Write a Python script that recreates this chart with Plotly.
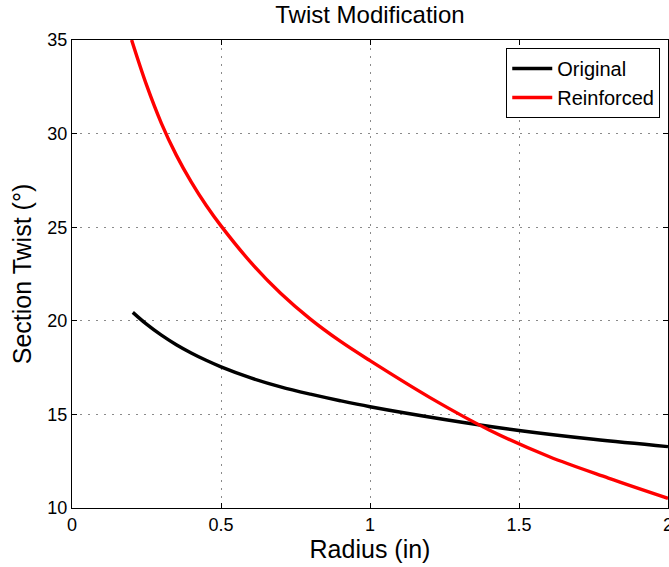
import plotly.graph_objects as go

# Data
radius_original = [0.204, 0.25, 0.3, 0.35, 0.4, 0.45, 0.5, 0.6, 0.7, 0.8, 0.9, 1.0, 1.25, 1.5, 1.75, 2.0]
twist_original = [20.45, 19.82, 19.23, 18.72, 18.28, 17.89, 17.54, 16.95, 16.47, 16.08, 15.73, 15.41, 14.73, 14.14, 13.67, 13.28]

radius_reinforced = [0.2, 0.25, 0.3, 0.35, 0.4, 0.45, 0.5, 0.6, 0.7, 0.8, 0.9, 1.0, 1.2, 1.4, 1.6, 1.8, 2.0]
twist_reinforced = [35.0, 32.6, 30.55, 28.85, 27.42, 26.17, 25.07, 23.12, 21.47, 20.09, 18.91, 17.87, 15.91, 14.17, 12.75, 11.6, 10.52]

x_ticks = [0, 0.5, 1, 1.5, 2]
x_tick_labels = ["0", "0.5", "1", "1.5", "2"]
y_ticks = [10, 15, 20, 25, 30, 35]
y_tick_labels = ["10", "15", "20", "25", "30", "35"]

FONT = "Liberation Sans, Arial, Helvetica, sans-serif"

fig = go.Figure()
fig.add_trace(go.Scatter(x=radius_original, y=twist_original, mode="lines",
                         name="Original", line=dict(color="black", width=3.4, shape="spline", smoothing=1)))
fig.add_trace(go.Scatter(x=radius_reinforced, y=twist_reinforced, mode="lines",
                         name="Reinforced", line=dict(color="#ff0000", width=3.4, shape="spline", smoothing=1)))

axis_common = dict(
    showline=True, linecolor="black", linewidth=1.2, mirror="ticks",
    ticks="inside", ticklen=5, tickcolor="black",
    showgrid=True, gridcolor="#8a8a8a", griddash="2px,6px", gridwidth=1,
    zeroline=False, tickfont=dict(family=FONT, size=18, color="black"),
    ticklabeloverflow="allow", automargin=False,
)

fig.update_layout(
    width=669, height=567,
    margin=dict(l=72, r=1, t=40, b=59, autoexpand=False),
    paper_bgcolor="white", plot_bgcolor="white",
    title=dict(text="Twist Modification", x=0.553, xanchor="center", y=0.9735, yanchor="middle",
               font=dict(family=FONT, size=24, color="black")),
    xaxis=dict(range=[0, 2], tickvals=x_ticks, ticktext=x_tick_labels,
               title=dict(text="Radius (in)", font=dict(family=FONT, size=25, color="black"), standoff=4),
               **axis_common),
    yaxis=dict(range=[10, 35], tickvals=y_ticks, ticktext=y_tick_labels,
               title=dict(text="Section Twist (°)", font=dict(family=FONT, size=25, color="black"), standoff=8),
               **axis_common),
    legend=dict(x=0.987, y=0.983, xanchor="right", yanchor="top",
                bgcolor="white", bordercolor="black", borderwidth=1,
                font=dict(family=FONT, size=20, color="black"),
                tracegroupgap=0, itemwidth=40),
    showlegend=True,
)

fig.write_html("out.html")
